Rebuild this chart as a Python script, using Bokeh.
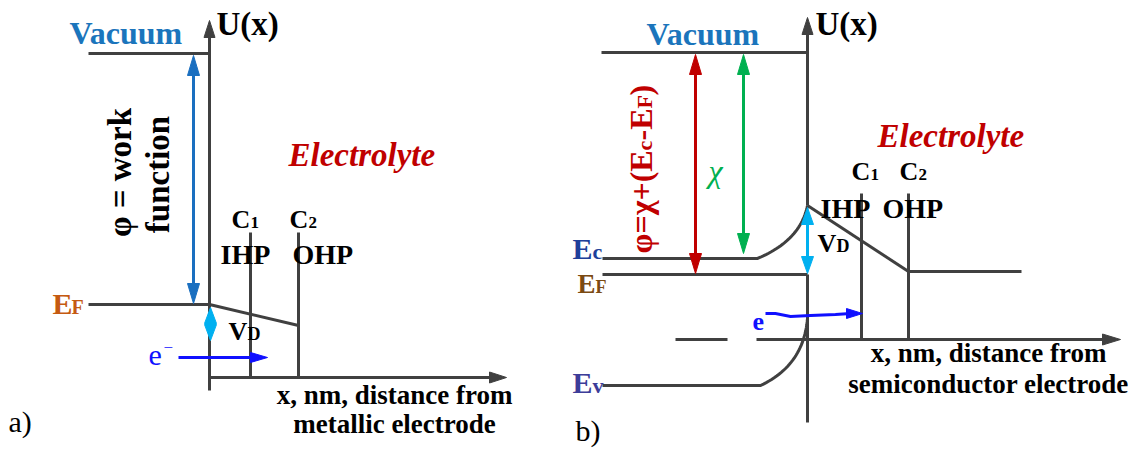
import numpy as np
from bokeh.plotting import figure
from bokeh.models import Range1d
from bokeh.core.properties import value
from bokeh.embed import file_html
from bokeh.resources import INLINE

# ---------------- data (diagram coordinates, picture pixels) ----------------
# panel a: metallic electrode
a_axis_x = 209
a_axis_y = [390, 36]
a_vacuum_y = 53
a_ef_y = 304
a_level_x = [88, 209]
a_xaxis_y = 377
a_xaxis_x = [209, 490]
a_plane_x = [250, 298]          # C1 (IHP), C2 (OHP)
a_plane_top = 232
a_ohp_y = 325
a_wf_x = 193
a_vd_y = [307, 340]
a_e_y = 357
a_e_x = [178, 267]

# panel b: semiconductor electrode
b_axis_x = 807
b_vacuum_y = 52
b_ec_y = 258
b_ef_y = 274
b_ev_y = 385
b_level_x0 = 602
b_ec_bend_x = 757
b_ev_bend_x = 760
b_surface_top = 205
b_ev_surface = 318
b_xaxis_y = 339
b_xaxis_dash = [675, 727]
b_xaxis_x = [756, 1103]
b_plane_x = [861, 908]
b_plane_top = 193
b_ohp_y = 271
b_electrolyte_end = 1021
b_phi_x = 695
b_chi_x = 743
b_chi_bottom = 253
b_e_x = [765, 775, 790, 810, 835, 850]
b_e_y = [313, 313, 316, 315, 314, 313]

LINE = "#404040"
FONT = value("Liberation Serif")

p = figure(width=1140, height=450, x_range=Range1d(0, 1140), y_range=Range1d(450, 0),
           output_backend="svg", toolbar_location=None, min_border=0)
p.axis.visible = False
p.grid.visible = False
p.outline_line_color = None
p.background_fill_color = "white"
p.border_fill_color = "white"


def seg(xs, ys, color=LINE, w=3):
    p.line(xs, ys, line_color=color, line_width=w, line_cap="butt", line_join="miter")


def head(tip, base, hw, color=LINE, vertical=True):
    if vertical:
        xs = [tip[0], tip[0] - hw, tip[0] + hw]
        ys = [tip[1], base, base]
    else:
        xs = [tip[0], base, base]
        ys = [tip[1], tip[1] - hw, tip[1] + hw]
    p.patch(xs, ys, fill_color=color, line_color=color, line_width=1)


def darrow(x, y0, y1, color, hl=20, hw=6):
    seg([x, x], [y0 + hl - 2, y1 - hl + 2], color=color)
    head((x, y0), y0 + hl, hw, color)
    head((x, y1), y1 - hl, hw, color)


MID = 0.335  # distance from baseline to em-box middle, in em


def txt(x, y, s, size, color="#000000", style="bold", align="left", angle=0.0):
    """(x, y) is the start of the baseline; converted to a middle anchor."""
    if angle:
        x = x - MID * size
    else:
        y = y - MID * size
    p.text(x=[x], y=[y], text=[s], text_font=FONT, text_font_size=f"{size}px",
           text_font_style=style, text_color=color, text_align=align,
           text_baseline="middle", angle=angle)


def ctxt(x, y, s, size, color="#000000", style="bold", angle=0.0):
    p.text(x=[x], y=[y], text=[s], text_font=FONT, text_font_size=f"{size}px",
           text_font_style=style, text_color=color, text_align="center",
           text_baseline="middle", angle=angle)


def bezier(p0, c, p2, n=30):
    t = np.linspace(0, 1, n)
    x = (1 - t) ** 2 * p0[0] + 2 * (1 - t) * t * c[0] + t ** 2 * p2[0]
    y = (1 - t) ** 2 * p0[1] + 2 * (1 - t) * t * c[1] + t ** 2 * p2[1]
    return x, y


# ---------------- panel a ----------------
seg([a_axis_x, a_axis_x], a_axis_y)
head((a_axis_x, 20), 37, 5.5)
seg(a_level_x, [a_vacuum_y, a_vacuum_y])
seg(a_level_x, [a_ef_y, a_ef_y])
seg([a_axis_x, a_plane_x[1]], [a_ef_y, a_ohp_y])
for px in a_plane_x:
    seg([px, px], [a_plane_top, a_xaxis_y])
seg(a_xaxis_x, [a_xaxis_y, a_xaxis_y])
head((506, a_xaxis_y), 489, 5.5, vertical=False)

darrow(a_wf_x, a_vacuum_y + 2, a_ef_y - 1, "#1a6fc0")
head((a_axis_x + 1, a_vd_y[0]), 323, 6, "#00b0f0")
head((a_axis_x + 1, a_vd_y[1]), 324, 6, "#00b0f0")
seg([a_e_x[0], a_e_x[1] - 14], [a_e_y, a_e_y], color="#1010ff")
head((a_e_x[1], a_e_y), a_e_x[1] - 17, 5, "#1010ff", vertical=False)

txt(69, 43, "Vacuum", 32, "#1b75bc")
txt(216, 35, "U(x)", 33)
txt(288, 166, "Electrolyte", 33, "#c00000", style="bold italic")
ctxt(119, 172, "φ = work", 33, angle=np.pi / 2)
ctxt(157, 174, "function", 33, angle=np.pi / 2)
txt(231, 228, "C", 26)
txt(250, 228, "1", 17)
txt(289, 228, "C", 26)
txt(308, 228, "2", 17)
txt(220, 263, "IHP", 28)
txt(292, 263, "OHP", 28)
txt(228, 340, "V", 26)
txt(247, 340, "D", 18)
txt(52, 313, "E", 30, "#c55a11")
txt(71, 313, "F", 20, "#c55a11")
txt(148, 365, "e", 30, "#1010ff", style="normal")
txt(163, 353, "−", 17, "#1010ff", style="normal")
txt(394, 404, "x, nm, distance from", 27, align="center")
txt(394, 433, "metallic electrode", 27, align="center")
txt(8, 431, "a)", 30, style="normal")

# ---------------- panel b ----------------
seg([b_axis_x, b_axis_x], [33, b_surface_top])
seg([b_axis_x, b_axis_x], [b_ef_y, 422])
head((b_axis_x, 17), 34, 5.5)
seg([601, b_axis_x], [b_vacuum_y, b_vacuum_y])
cx, cy = bezier((b_ec_bend_x, b_ec_y), (800, 240), (b_axis_x, b_surface_top))
seg([b_level_x0] + list(cx), [b_ec_y] + list(cy))
seg([b_level_x0, b_axis_x], [b_ef_y, b_ef_y])
vx, vy = bezier((b_ev_bend_x, b_ev_y), (803, 365), (b_axis_x, b_ev_surface))
seg([b_level_x0] + list(vx), [b_ev_y] + list(vy))
seg(b_xaxis_dash, [b_xaxis_y, b_xaxis_y])
seg(b_xaxis_x, [b_xaxis_y, b_xaxis_y])
head((1120, b_xaxis_y), 1102, 5.5, vertical=False)
seg([b_axis_x, b_plane_x[1]], [b_surface_top, b_ohp_y])
seg([b_plane_x[1], b_electrolyte_end], [b_ohp_y, b_ohp_y])
for px in b_plane_x:
    seg([px, px], [b_plane_top, b_xaxis_y])

darrow(b_phi_x, b_vacuum_y + 2, b_ef_y - 1, "#c00000")
darrow(b_chi_x, b_vacuum_y + 2, b_chi_bottom, "#00b050")
darrow(b_axis_x, b_surface_top + 2, b_ef_y - 1, "#00b0f0", hl=17)
seg(b_e_x, b_e_y, color="#1010ff")
head((862, 313), 846, 5, "#1010ff", vertical=False)

txt(646, 44, "Vacuum", 32, "#1b75bc")
txt(815, 35, "U(x)", 33)
txt(877, 147, "Electrolyte", 33, "#c00000", style="bold italic")
txt(851, 180, "C", 26)
txt(870, 180, "1", 17)
txt(899, 180, "C", 26)
txt(918, 180, "2", 17)
txt(820, 217, "IHP", 28)
txt(882, 217, "OHP", 28)
txt(817, 252, "V", 26)
txt(836, 252, "D", 18)
txt(572, 258, "E", 30, "#203f9a")
txt(592, 258, "c", 22, "#203f9a")
txt(577, 293, "E", 27, "#7b4a12")
txt(595, 293, "F", 18, "#7b4a12")
txt(572, 392, "E", 30, "#3d3d99")
txt(592, 392, "v", 22, "#3d3d99")
txt(752, 330, "e", 26, "#1010ff")
ctxt(715, 170, "χ", 32, "#00b050", style="italic")

# rotated φ=χ+(Ec-EF)
phi_pieces = ["φ=χ+(E", "c", "-E", "F", ")"]
phi_sizes = [32, 22, 32, 22, 32]
phi_starts = [253, 150, 140, 108, 95]
for s, sz, y0 in zip(phi_pieces, phi_sizes, phi_starts):
    txt(651, y0, s, sz, "#c00000", angle=np.pi / 2)

txt(988, 362, "x, nm, distance from", 27, align="center")
txt(988, 393, "semiconductor electrode", 27, align="center")
txt(575, 440, "b)", 30, style="normal")

open("out.html", "w").write(file_html(p, INLINE))
